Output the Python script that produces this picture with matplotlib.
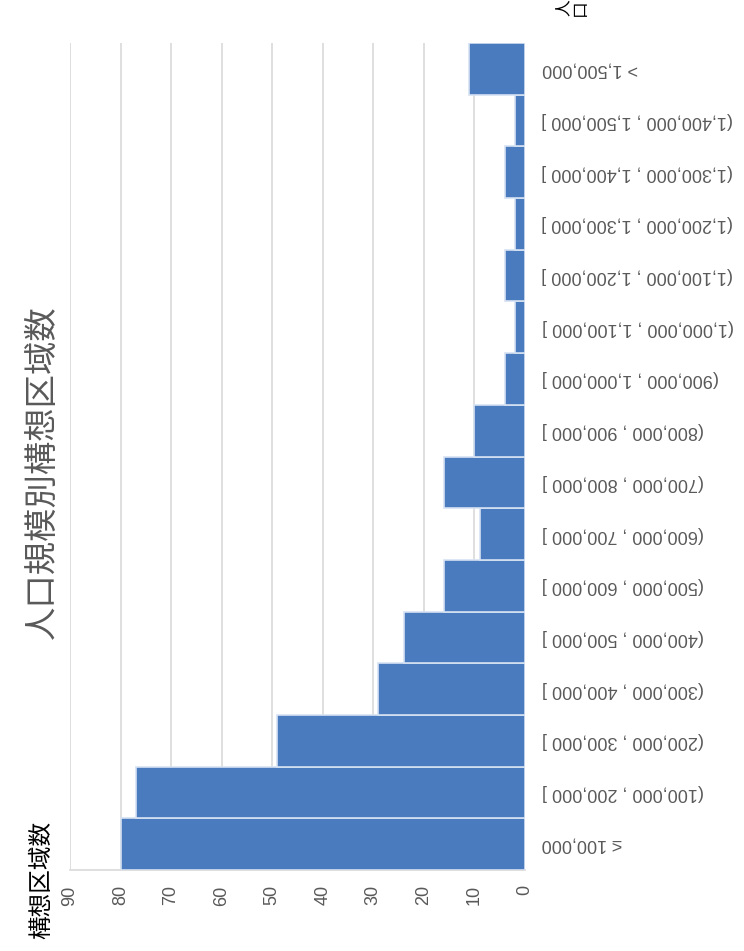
import matplotlib.pyplot as plt

plt.rcParams['font.family'] = ['Noto Sans CJK JP', 'DejaVu Sans']

# data: population band -> number of areas
categories = ["≤ 100,000", "(100,000 , 200,000 ]", "(200,000 , 300,000 ]", "(300,000 , 400,000 ]",
              "(400,000 , 500,000 ]", "(500,000 , 600,000 ]", "(600,000 , 700,000 ]", "(700,000 , 800,000 ]",
              "(800,000 , 900,000 ]", "(900,000 , 1,000,000 ]", "(1,000,000 , 1,100,000 ]",
              "(1,100,000 , 1,200,000 ]", "(1,200,000 , 1,300,000 ]", "(1,300,000 , 1,400,000 ]",
              "(1,400,000 , 1,500,000 ]", "> 1,500,000"]
counts = [80, 77, 49, 29, 24, 16, 9, 16, 10, 4, 2, 4, 2, 4, 2, 11]
ticks = [0, 10, 20, 30, 40, 50, 60, 70, 80, 90]

title = "人口規模別構想区域数"
value_label = "構想区域数"
category_label = "人\n口"

gray = "#595959"
latin = ['Liberation Sans', 'DejaVu Sans']

fig = plt.figure(figsize=(7.44, 9.51), dpi=100)
ax = fig.add_axes([70 / 744, 1 - 870 / 951, 455 / 744, 827 / 951])

# chart is drawn turned a quarter turn: bars grow leftwards from 0 on the right
ax.barh(range(len(counts)), counts, height=1.0, color="#4A7BBF",
        edgecolor="#d6e2f2", linewidth=1.2, zorder=3)

ax.set_xlim(90, 0)
ax.set_ylim(-0.5, len(counts) - 0.5)
ax.set_xticks(ticks)
ax.set_xticklabels([str(t) for t in ticks], rotation=90, color=gray,
                   fontsize=13, family=latin)
ax.tick_params(axis='x', length=0, pad=11)

ax.yaxis.tick_right()
ax.set_yticks(range(len(categories)))
ax.set_yticklabels(categories, rotation=180, color=gray, fontsize=13,
                   family=latin, ha='left', va='center')
ax.tick_params(axis='y', length=0, pad=12)

ax.grid(axis='x', color="#d9d9d9", linewidth=1.2, zorder=0)
for s in ['top', 'left', 'right']:
    ax.spines[s].set_visible(False)
ax.spines['bottom'].set_color("#d9d9d9")
ax.spines['bottom'].set_linewidth(1.2)

fig.text(42 / 744, 1 - 472 / 951, title, rotation=90, ha='center', va='center',
         fontsize=24, color=gray)
fig.text(42 / 744, 1 - 880 / 951, value_label, rotation=90, ha='center', va='center',
         fontsize=17, color="black")
fig.text(572 / 744, 1 - 8 / 951, category_label, rotation=90, ha='center', va='center',
         fontsize=12, color="black", linespacing=1.0)

fig.savefig("out.png", dpi=100)
